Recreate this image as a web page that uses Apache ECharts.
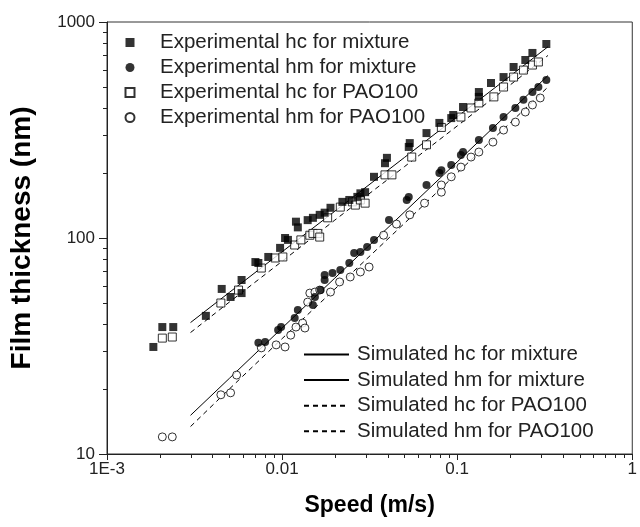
<!DOCTYPE html>
<html>
<head>
<meta charset="utf-8">
<title>Film thickness vs speed</title>
<script src="https://cdn.jsdelivr.net/npm/echarts@6/dist/echarts.min.js"></script>
<style>
  html, body { margin: 0; padding: 0; background: #fff; }
  #main { width: 640px; height: 527px; }
</style>
</head>
<body>
<div id="main"></div>
<script>
// experimental points, [speed m/s, thickness nm]
var hcMix = [
  [0.00184, 31.3], [0.00207, 38.7], [0.00239, 38.7], [0.00367, 43.6], [0.00452, 58.1],
  [0.00508, 53.3], [0.00587, 63.9], [0.00587, 55.6], [0.00704, 77.4], [0.00732, 76.6],
  [0.00834, 81.7], [0.00974, 90.0], [0.0104, 100], [0.0108, 98], [0.0120, 119],
  [0.0123, 112], [0.0140, 121], [0.0150, 124], [0.0164, 128], [0.0175, 131],
  [0.0189, 138], [0.0221, 147], [0.0242, 150], [0.0269, 155], [0.0280, 161],
  [0.0298, 163], [0.0335, 192], [0.0387, 222], [0.0397, 235], [0.0529, 264],
  [0.0536, 275], [0.0668, 306], [0.0791, 341], [0.0925, 359], [0.0949, 371],
  [0.108, 404], [0.133, 474], [0.133, 450], [0.156, 522], [0.184, 556],
  [0.210, 619], [0.245, 667], [0.269, 719], [0.323, 791]
];
var hmMix = [
  [0.00732, 32.7], [0.0080, 33.0], [0.00949, 37.5], [0.00987, 38.7], [0.0118, 42.6],
  [0.0123, 46.4], [0.0150, 49.0], [0.0154, 53.3], [0.0166, 57.4], [0.0175, 63.9],
  [0.0175, 67.4], [0.0194, 68.9], [0.0215, 71.1], [0.0242, 76.6], [0.0258, 85.2],
  [0.0280, 86.1], [0.0306, 90.9], [0.0335, 98], [0.0408, 121], [0.0515, 150],
  [0.0529, 155], [0.0668, 176], [0.0791, 200], [0.0812, 206], [0.0925, 218],
  [0.105, 242], [0.108, 250], [0.133, 284], [0.160, 323], [0.184, 363],
  [0.215, 400], [0.239, 436], [0.269, 474], [0.291, 500], [0.323, 539]
];
var hcPao = [
  [0.00207, 34.4], [0.00236, 34.8], [0.00447, 50.0], [0.00564, 57.4], [0.00761, 72.6],
  [0.00913, 80.8], [0.0101, 81.7], [0.0118, 92.8], [0.0128, 98], [0.0144, 103],
  [0.0150, 105], [0.0160, 105], [0.0164, 101], [0.0182, 124], [0.0215, 139],
  [0.0252, 147], [0.0262, 142], [0.0280, 150], [0.0298, 145], [0.0387, 196],
  [0.0424, 196], [0.0550, 237], [0.0668, 270], [0.0812, 325], [0.105, 363],
  [0.120, 400], [0.133, 422], [0.162, 450], [0.184, 500], [0.210, 556],
  [0.239, 599], [0.269, 632], [0.291, 653]
];
var hmPao = [
  [0.00207, 12.0], [0.00236, 12.0], [0.00447, 18.8], [0.00508, 19.2], [0.0055, 23.2],
  [0.00761, 31.0], [0.00925, 32.0], [0.0104, 31.3], [0.0112, 35.5], [0.0120, 38.7],
  [0.0131, 40.4], [0.0135, 38.3], [0.0140, 50.5], [0.0144, 55.6], [0.0154, 56.2],
  [0.0164, 57.4], [0.0189, 56.2], [0.0213, 62.6], [0.0245, 66.0], [0.0280, 69.6],
  [0.0314, 73.4], [0.038, 103], [0.045, 116], [0.0536, 128], [0.0651, 145],
  [0.0812, 163], [0.0812, 176], [0.0925, 192], [0.105, 213], [0.120, 237],
  [0.133, 250], [0.160, 278], [0.184, 316], [0.215, 344], [0.245, 383],
  [0.269, 413], [0.298, 445]
];

// simulated curves
var simX = [0.003, 0.005, 0.01, 0.02, 0.05, 0.1, 0.2, 0.33];
var simHcMix = [40.6, 56.0, 86.3, 133, 236, 364, 561, 768];
var simHmMix = [15.1, 22.4, 38.3, 65.2, 132, 225, 384, 565];
var simHcPao = [36.5, 50.5, 78, 121, 214, 330, 510, 700];
var simHmPao = [13.4, 20.0, 34.2, 58, 117, 200, 340, 500];

// minor tick positions
var xMinor = [0.002, 0.003, 0.004, 0.005, 0.006, 0.007, 0.008, 0.009,
              0.02, 0.03, 0.04, 0.05, 0.06, 0.07, 0.08, 0.09,
              0.2, 0.3, 0.4, 0.5, 0.6, 0.7, 0.8, 0.9];
var yMinor = [20, 30, 40, 50, 60, 70, 80, 90, 200, 300, 400, 500, 600, 700, 800, 900];

var FONT = 'Liberation Sans, Arial, sans-serif';

function pairs(xs, ys) {
  return xs.map(function (x, i) { return [x, ys[i]]; });
}

function simLine(name, ys, dashed) {
  return {
    name: name,
    type: 'line',
    data: pairs(simX, ys),
    symbol: 'none',
    showSymbol: false,
    itemStyle: { color: '#000' },
    lineStyle: { color: '#000', width: 1, type: dashed ? [5, 4] : 'solid' },
    z: 2
  };
}

var chart = echarts.init(document.getElementById('main'));

var option = {
  animation: false,
  backgroundColor: '#fff',
  grid: { left: 107, right: 2, top: 22, bottom: 73, show: true, borderColor: '#333', borderWidth: 1 },
  legend: [
    {
      orient: 'vertical', left: 119.5, top: 25,
      itemWidth: 9, itemHeight: 9, itemGap: 0,
      textStyle: { fontFamily: FONT, fontSize: 20.5, lineHeight: 25, color: '#222', padding: [0, 0, 0, 20.5] },
      data: ['Experimental hc for mixture', 'Experimental hm for mixture',
             'Experimental hc for PAO100', 'Experimental hm for PAO100']
    },
    {
      orient: 'vertical', left: 298, top: 337,
      itemWidth: 45, itemHeight: 9, itemGap: 0.6,
      itemStyle: { color: 'rgba(0,0,0,0)', borderColor: 'rgba(0,0,0,0)', borderWidth: 0, opacity: 0 },
      textStyle: { fontFamily: FONT, fontSize: 20.5, lineHeight: 25, color: '#222', padding: [0, 0, 0, 3] },
      data: ['Simulated hc for mixture', 'Simulated hm for mixture',
             'Simulated hc for PAO100', 'Simulated hm for PAO100']
    }
  ],
  xAxis: {
    type: 'log', logBase: 10, min: 0.001, max: 1,
    name: 'Speed (m/s)', nameLocation: 'middle', nameGap: 40,
    nameTextStyle: { fontFamily: FONT, fontWeight: 'bold', fontSize: 23, color: '#000' },
    axisLine: { show: true, lineStyle: { color: '#222', width: 1 } },
    axisTick: { show: true, length: 6, lineStyle: { color: '#222' } },
    axisLabel: {
      fontFamily: FONT, fontSize: 17, color: '#222', margin: 7,
      formatter: function (v) { return v === 0.001 ? '1E-3' : String(+v.toPrecision(3)); }
    },
    splitLine: { show: false }
  },
  yAxis: {
    type: 'log', logBase: 10, min: 10, max: 1000,
    name: 'Film thickness (nm)', nameLocation: 'middle', nameGap: 71,
    nameTextStyle: { fontFamily: FONT, fontWeight: 'bold', fontSize: 28, color: '#000' },
    axisLine: { show: true, lineStyle: { color: '#222', width: 1 } },
    axisTick: { show: true, length: 8, lineStyle: { color: '#222' } },
    axisLabel: {
      fontFamily: FONT, fontSize: 17, color: '#222', margin: 12,
      formatter: function (v) { return String(Math.round(v)); }
    },
    splitLine: { show: false }
  },
  series: [
    simLine('Simulated hc for mixture', simHcMix, false),
    simLine('Simulated hm for mixture', simHmMix, false),
    simLine('Simulated hc for PAO100', simHcPao, true),
    simLine('Simulated hm for PAO100', simHmPao, true),
    {
      name: 'Experimental hc for PAO100', type: 'scatter', data: hcPao,
      symbol: 'rect', symbolSize: 8,
      itemStyle: { color: '#fff', borderColor: '#000', borderWidth: 1 }, z: 3
    },
    {
      name: 'Experimental hm for PAO100', type: 'scatter', data: hmPao,
      symbol: 'circle', symbolSize: 8,
      itemStyle: { color: '#fff', borderColor: '#000', borderWidth: 1 }, z: 3
    },
    {
      name: 'Experimental hc for mixture', type: 'scatter', data: hcMix,
      symbol: 'rect', symbolSize: 8, itemStyle: { color: '#000' }, z: 4
    },
    {
      name: 'Experimental hm for mixture', type: 'scatter', data: hmMix,
      symbol: 'circle', symbolSize: 8, itemStyle: { color: '#000' }, z: 4
    },
    {
      // minor ticks on the speed axis
      type: 'custom', silent: true, clip: false,
      data: xMinor.map(function (v) { return [v, 10]; }),
      encode: { x: 0, y: 1 },
      renderItem: function (params, api) {
        var p = api.coord([api.value(0), 10]);
        var x = Math.round(p[0]) + 0.5;
        return { type: 'line', shape: { x1: x, y1: p[1], x2: x, y2: p[1] + 4 },
                 style: { stroke: '#222', lineWidth: 1 } };
      }
    },
    {
      // minor ticks on the thickness axis
      type: 'custom', silent: true, clip: false,
      data: yMinor.map(function (v) { return [0.001, v]; }),
      encode: { x: 0, y: 1 },
      renderItem: function (params, api) {
        var p = api.coord([0.001, api.value(1)]);
        var y = Math.round(p[1]) + 0.5;
        return { type: 'line', shape: { x1: p[0], y1: y, x2: p[0] - 4, y2: y },
                 style: { stroke: '#222', lineWidth: 1 } };
      }
    }
  ]
};

chart.setOption(option);
</script>
</body>
</html>
